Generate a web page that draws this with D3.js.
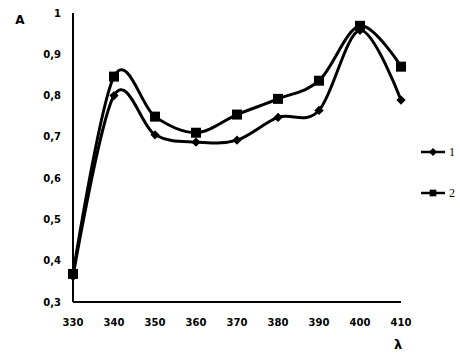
<!DOCTYPE html>
<html><head><meta charset="utf-8">
<script src="https://cdn.jsdelivr.net/npm/d3@7"></script>
<style>body{margin:0;background:#fff}svg{display:block}</style>
</head><body>
<script>
const wavelengths = [330, 340, 350, 360, 370, 380, 390, 400, 410];
const series1 = [0.362, 0.800, 0.705, 0.687, 0.692, 0.747, 0.764, 0.958, 0.789];
const series2 = [0.368, 0.846, 0.749, 0.710, 0.754, 0.792, 0.836, 0.969, 0.870];
const yTicks = [0.3, 0.4, 0.5, 0.6, 0.7, 0.8, 0.9, 1];
const seriesNames = ["1", "2"];

const W = 460, H = 360;
const svg = d3.select("body").append("svg").attr("width", W).attr("height", H);
const x = d3.scaleLinear().domain([330, 410]).range([73, 401]);
const y = d3.scaleLinear().domain([0.3, 1]).range([302, 13]);

// axes lines
svg.append("line").attr("x1", x(330)).attr("x2", x(330)).attr("y1", y(1)).attr("y2", y(0.3))
  .attr("stroke", "#000").attr("stroke-width", 2);
svg.append("line").attr("x1", x(330)).attr("x2", x(410)).attr("y1", y(0.3)).attr("y2", y(0.3))
  .attr("stroke", "#000").attr("stroke-width", 2);

const fmt = v => (v === 1 ? "1" : d3.format(".1f")(v).replace(".", ","));
svg.append("g").selectAll("text").data(yTicks).join("text")
  .attr("x", 61).attr("y", d => y(d)).attr("dy", "0.35em").attr("text-anchor", "end")
  .attr("font-family", "DejaVu Sans").attr("font-weight", "bold").attr("font-size", 10)
  .text(fmt);
svg.append("g").selectAll("text").data(wavelengths).join("text")
  .attr("x", d => x(d)).attr("y", 326).attr("text-anchor", "middle")
  .attr("font-family", "DejaVu Sans").attr("font-weight", "bold").attr("font-size", 10)
  .text(d => d);

svg.append("text").attr("x", 20).attr("y", 24).attr("text-anchor", "middle")
  .attr("font-family", "DejaVu Sans").attr("font-weight", "bold").attr("font-size", 12).text("A");
svg.append("text").attr("x", 398).attr("y", 349).attr("text-anchor", "middle")
  .attr("font-family", "DejaVu Sans").attr("font-weight", "bold").attr("font-size", 13).text("λ");

const line = d3.line().x((d, i) => x(wavelengths[i])).y(d => y(d)).curve(d3.curveCatmullRom.alpha(0));
const all = [series1, series2];
all.forEach((s, k) => {
  svg.append("path").attr("d", line(s)).attr("fill", "none").attr("stroke", "#000").attr("stroke-width", 3);
});
const diamond = d3.symbol().type(d3.symbolDiamond2).size(55);
const square = d3.symbol().type(d3.symbolSquare).size(100);
svg.append("g").selectAll("path").data(series1).join("path")
  .attr("transform", (d, i) => `translate(${x(wavelengths[i])},${y(d)})`).attr("d", diamond).attr("fill", "#000");
svg.append("g").selectAll("path").data(series2).join("path")
  .attr("transform", (d, i) => `translate(${x(wavelengths[i])},${y(d)})`).attr("d", square).attr("fill", "#000");

// legend
const legY = [152, 193];
seriesNames.forEach((n, k) => {
  svg.append("line").attr("x1", 421).attr("x2", 445).attr("y1", legY[k]).attr("y2", legY[k])
    .attr("stroke", "#000").attr("stroke-width", 2.5);
  svg.append("path").attr("transform", `translate(433,${legY[k]})`)
    .attr("d", k === 0 ? d3.symbol().type(d3.symbolDiamond2).size(40)() : d3.symbol().type(d3.symbolSquare).size(45)())
    .attr("fill", "#000");
  svg.append("text").attr("x", 449).attr("y", legY[k]).attr("dy", "0.35em")
    .attr("font-family", "Liberation Serif").attr("font-size", 12).text(n);
});
</script>
</body></html>
